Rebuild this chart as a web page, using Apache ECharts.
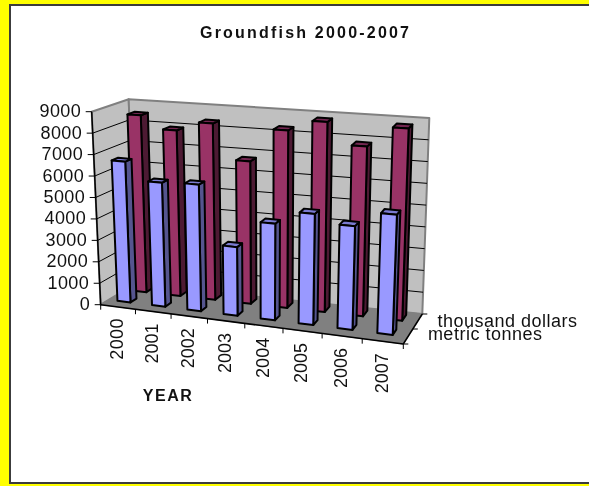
<!DOCTYPE html>
<html><head><meta charset="utf-8">
<script src="https://cdn.jsdelivr.net/npm/echarts@6/dist/echarts.min.js"></script>
<style>html,body{margin:0;padding:0;background:#ffff00}#c{width:589px;height:486px;filter:blur(0.35px)}</style>
</head><body><div id="c"></div>
<script>
const years = ['2000','2001','2002','2003','2004','2005','2006','2007'];
const tonnes = [6600,5770,5840,3140,4390,5010,4640,5330];
const dollars = [8470,7870,8320,6670,8250,8770,7770,8730];
const seriesNames = ['metric tonnes','thousand dollars'];
const yTicks = [0,1000,2000,3000,4000,5000,6000,7000,8000,9000];
const titleText = 'Groundfish 2000-2007';
const xName = 'YEAR';

// perspective frame of the 3D box: [u,d,v] corners in pixels
const C = {
  f0l:[100.7,304.7], f0r:[403.3,344], b0l:[135,284], b0r:[422.3,314],
  f1l:[91.7,111.7], f1r:[411.5,138], b1l:[128.7,99.3], b1r:[429.3,118]
};
const K = 1.1;
const warp = u => u/(u+K*(1-u));
const mix = (a,b,t)=>[a[0]+(b[0]-a[0])*t,a[1]+(b[1]-a[1])*t];
function P(u,d,v){
  const s=warp(u);
  const f0=mix(C.f0l,C.f0r,s), b0=mix(C.b0l,C.b0r,s), f1=mix(C.f1l,C.f1r,s), b1=mix(C.b1l,C.b1r,s);
  return mix(mix(f0,b0,d),mix(f1,b1,d),v);
}
function norm(api,params,cat,val){
  const cs=params.coordSys, p=api.coord([cat,val]);
  return [(p[0]-cs.x)/cs.width,1-(p[1]-cs.y)/cs.height];
}
const poly=(pts,fill,stroke,lw)=>({type:'polygon',shape:{points:pts},style:{fill:fill,stroke:stroke||'#000',lineWidth:lw==null?2:lw,lineJoin:'round'}});
const line=(a,b,c,lw)=>({type:'line',shape:{x1:a[0],y1:a[1],x2:b[0],y2:b[1]},style:{stroke:c||'#000',lineWidth:lw||1}});
const txt=(x,y,t,o)=>({type:'text',x:x,y:y,rotation:o.rot||0,style:Object.assign({text:t,fill:'#111',font:'18px "Liberation Sans"',align:'center',verticalAlign:'middle'},o)});

function barItem(depth0,depth1,faces){
  return function(params,api){
    const cat=api.value(0), val=api.value(1);
    const cs=params.coordSys, bw=api.size([1,0])[0]/cs.width;
    const c=norm(api,params,cat,0)[0], v=norm(api,params,cat,val)[1];
    const u0=c-bw*0.25, u1=c+bw*0.13;
    const A=P(u0,depth0,0),B=P(u1,depth0,0),C2=P(u1,depth1,0);
    const D=P(u0,depth0,v),E=P(u1,depth0,v),F=P(u1,depth1,v),G=P(u0,depth1,v);
    return {type:'group',children:[
      poly([B,C2,F,E],faces.side),
      poly([D,E,F,G],faces.top),
      poly([A,B,E,D],faces.front)
    ]};
  };
}
function wallItem(params,api){
  const ch=[];
  ch.push(poly([P(0,0,0),P(0,1,0),P(0,1,1),P(0,0,1)],'#c0c0c0','#808080',2));
  ch.push(poly([P(0,1,0),P(1,1,0),P(1,1,1),P(0,1,1)],'#c0c0c0','#808080',2));
  ch.push(poly([P(0,0,0),P(1,0,0),P(1,1,0),P(0,1,0)],'#808080','#808080',1));
  return {type:'group',children:ch};
}
function gridItem(params,api){
  const val=api.value(0);
  const v=norm(api,params,0,val)[1];
  const L=P(0,0,v),M=P(0,1,v),R=P(1,1,v);
  const ch=[];
  if(val>0&&val<9000){ch.push(line(L,M),line(M,R));}
  ch.push(line(L,[L[0]-6,L[1]]));
  ch.push(txt(L[0]-10.5,L[1]-0.5,String(val),{align:'right',rot:0}));
  return {type:'group',children:ch};
}
function catItem(params,api){
  const i=api.value(0), cs=params.coordSys, bw=api.size([1,0])[0]/cs.width;
  const c=norm(api,params,i,0)[0];
  const E=P(c-bw/2,0,0),M=P(c,0,0);
  const ch=[line(E,[E[0],E[1]+5])];
  if(i===years.length-1){const Z=P(1,0,0);ch.push(line(Z,[Z[0],Z[1]+5]));}
  ch.push(txt(M[0]-1,M[1]+32,years[i],{rot:Math.PI/2}));
  return {type:'group',children:ch};
}
function frameItem(params,api){
  const ch=[line(P(0,0,0),P(1,0,0),'#000',1.5),line(P(0,0,0),P(0,0,1),'#000',1.5),line(P(1,0,0),P(1,1,0),'#000',1.5)];
  [0,0.5,1].forEach(d=>{const p=P(1,d,0);ch.push(line(p,[p[0]+5,p[1]]));});
  ch.push(txt(168,395,xName,{font:'bold 16px "Liberation Sans"'}));
  [[0.32,18.5,0],[0.77,19.5,0]].forEach((o,k)=>{
    const p=P(1,o[0],0);
    ch.push(txt(p[0]+o[1],p[1],seriesNames[k],{align:'left',z2:k}));
  });
  return {type:'group',children:ch};
}
const chart=echarts.init(document.getElementById('c'),null,{renderer:'svg'});
chart.setOption({
  animation:false,
  backgroundColor:'#ffff00',
  title:{text:titleText,left:195,top:19,textStyle:{fontFamily:'Liberation Sans',fontWeight:'bold',fontSize:16,color:'#111'}},
  graphic:[{type:'rect',z:-1,shape:{x:10,y:5,width:600,height:478},style:{fill:'#fff',stroke:'#3c3c3c',lineWidth:2}}],
  grid:{left:0,right:0,top:0,bottom:0},
  xAxis:{type:'category',data:years,show:false},
  yAxis:{type:'value',min:0,max:9000,interval:1000,show:false},
  series:[
    {type:'custom',name:'walls',renderItem:wallItem,data:[[0]],encode:{x:0,y:1},z:1,silent:true},
    {type:'custom',name:'grid',renderItem:gridItem,data:yTicks.map(v=>[v]),encode:{y:0},z:2,silent:true},
    {type:'custom',name:'cats',renderItem:catItem,data:years.map((y,i)=>[i]),encode:{x:0},z:3,silent:true},
    {type:'custom',name:seriesNames[1],renderItem:barItem(0.72,0.92,{front:'#993366',side:'#4d1a33',top:'#732650'}),data:dollars.map((v,i)=>[i,v]),encode:{x:0,y:1},z:5},
    {type:'custom',name:seriesNames[0],renderItem:barItem(0.24,0.42,{front:'#9999ff',side:'#55558f',top:'#7a7ad0'}),data:tonnes.map((v,i)=>[i,v]),encode:{x:0,y:1},z:6},
    {type:'custom',name:'frame',renderItem:frameItem,data:[[0]],encode:{x:0},z:4,silent:true}
  ]
});
const spacing={};spacing[titleText]='2.2px';spacing[xName]='1.5px';seriesNames.forEach(n=>spacing[n]='0.5px');
yTicks.forEach(v=>spacing[String(v)]='0.4px');
document.querySelectorAll('#c svg text').forEach(t=>{const s=spacing[t.textContent];if(s)t.style.letterSpacing=s;});
</script></body></html>
